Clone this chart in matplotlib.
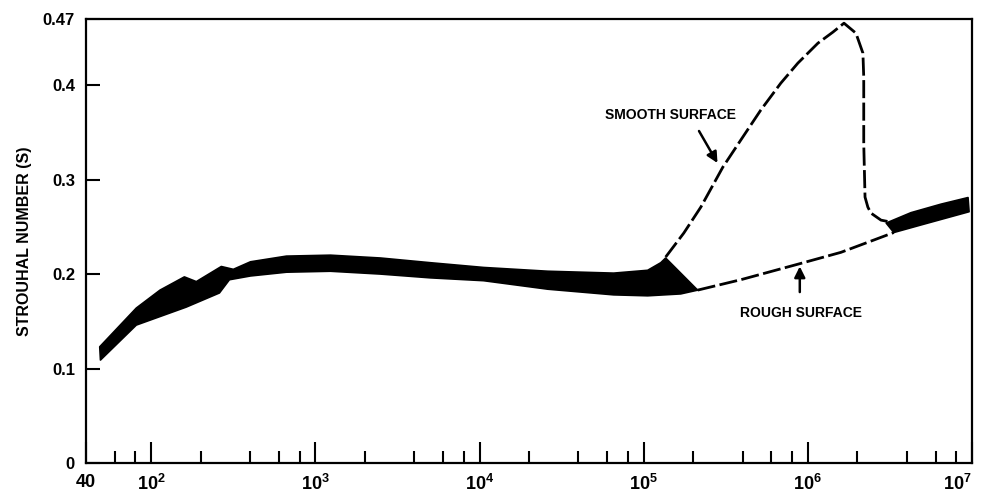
import matplotlib
matplotlib.use("Agg")
import matplotlib.pyplot as plt
import numpy as np

plt.rcParams['font.family'] = ['Liberation Sans', 'DejaVu Sans']
plt.rcParams['font.weight'] = 'bold'
plt.rcParams['mathtext.fontset'] = 'custom'
plt.rcParams['mathtext.rm'] = 'Liberation Sans:bold'
plt.rcParams['mathtext.it'] = 'Liberation Sans:bold'
plt.rcParams['mathtext.bf'] = 'Liberation Sans:bold'

# measured band (Reynolds number vs Strouhal number)
re_upper = [48.5, 81, 113, 159, 188, 267, 316, 402, 666, 1234, 2490, 5025,
            10570, 26000, 65600, 105700, 127000, 136000]
s_upper = [0.123, 0.164, 0.183, 0.197, 0.192, 0.208, 0.205, 0.213, 0.219, 0.220,
           0.217, 0.212, 0.207, 0.203, 0.201, 0.204, 0.212, 0.217]
re_lower = [49, 81, 163, 260, 299, 402, 666, 1234, 2490, 5025, 10570, 26000,
            65600, 105700, 168000, 213000]
s_lower = [0.109, 0.146, 0.165, 0.180, 0.194, 0.198, 0.202, 0.203, 0.200, 0.196,
           0.193, 0.184, 0.178, 0.177, 0.179, 0.183]

# supercritical band
re_band2_upper = [3.0e6, 4.25e6, 6.47e6, 9.46e6]
s_band2_upper = [0.254, 0.265, 0.274, 0.281]
re_band2_lower = [3.34e6, 4.89e6, 9.6e6]
s_band2_lower = [0.244, 0.252, 0.266]

# smooth surface (dashed)
re_smooth = [1.36e5, 1.754e5, 2.228e5, 3.034e5, 3.90e5, 5.16e5, 6.84e5, 8.69e5,
             1.151e6, 1.42e6, 1.66e6, 1.963e6, 2.165e6, 2.19e6, 2.19e6, 2.23e6,
             2.32e6, 2.42e6, 2.79e6, 3.21e6]
s_smooth = [0.218, 0.2434, 0.2709, 0.3132, 0.3418, 0.3735, 0.4021, 0.4233,
            0.4444, 0.4561, 0.4656, 0.4550, 0.4339, 0.4085, 0.3386, 0.2815,
            0.2709, 0.2646, 0.2571, 0.2550]

# rough surface (dashed)
re_rough = [2.13e5, 3.9e5, 8.93e5, 1.59e6, 2.52e6, 3.34e6]
s_rough = [0.183, 0.194, 0.211, 0.223, 0.236, 0.244]

x_major = [40, 1e2, 1e3, 1e4, 1e5, 1e6, 1e7]
x_major_labels = ['40', '$10^2$', '$10^3$', '$10^4$', '$10^5$', '$10^6$', '$10^7$']
x_minor = [60, 80] + [m * 10.0 ** d for d in range(2, 7) for m in (2, 4, 6, 8)]
y_ticks = [0, 0.1, 0.2, 0.3, 0.4, 0.47]
y_labels = ['0', '0.1', '0.2', '0.3', '0.4', '0.47']

fig = plt.figure(figsize=(9.84, 4.98), dpi=100)
ax = fig.add_axes([0.0874, 0.0703, 0.9004, 0.8915])
ax.set_xscale('log')
ax.set_xlim(40, 1e7)
ax.set_ylim(0, 0.47)

ax.fill(np.concatenate([re_upper, re_lower[::-1]]),
        np.concatenate([s_upper, s_lower[::-1]]),
        color='black', lw=1.2, joinstyle='round')
ax.fill(np.concatenate([re_band2_upper, re_band2_lower[::-1]]),
        np.concatenate([s_band2_upper, s_band2_lower[::-1]]),
        color='black', lw=1.2, joinstyle='round')

ax.plot(re_smooth, s_smooth, color='black', lw=2.0, dashes=(6.5, 1.6),
        dash_joinstyle='round')
ax.plot(re_rough, s_rough, color='black', lw=2.0, dashes=(6.5, 1.6))

ax.text(1.46e5, 0.368, 'SMOOTH SURFACE', ha='center', va='center', fontsize=10)
ax.annotate('', xy=(2.87e5, 0.315), xytext=(2.13e5, 0.354),
            arrowprops=dict(arrowstyle='-|>', color='black', lw=1.8, mutation_scale=16))
ax.text(9.06e5, 0.159, 'ROUGH SURFACE', ha='center', va='center', fontsize=10)
ax.annotate('', xy=(8.93e5, 0.211), xytext=(8.93e5, 0.178),
            arrowprops=dict(arrowstyle='-|>', color='black', lw=1.8, mutation_scale=16))

ax.set_xticks(x_major)
ax.set_xticklabels(x_major_labels)
ax.set_xticks(x_minor, minor=True)
ax.set_xticklabels([], minor=True)
ax.set_yticks(y_ticks)
ax.set_yticklabels(y_labels)

ax.tick_params(axis='x', which='major', direction='in', length=15, width=1.5,
               labelsize=13, pad=8)
ax.tick_params(axis='x', which='minor', direction='in', length=8.5, width=1.5)
ax.tick_params(axis='y', direction='in', length=10, width=1.5, labelsize=12, pad=8)
for sp in ax.spines.values():
    sp.set_linewidth(1.6)

# last label sits right at the figure edge, keep it inside
ax.get_xticklabels()[-1].set_horizontalalignment('right')

ax.set_ylabel('STROUHAL NUMBER (S)', fontsize=11.5, fontweight='bold', labelpad=8)

fig.savefig('out.png', dpi=100)
